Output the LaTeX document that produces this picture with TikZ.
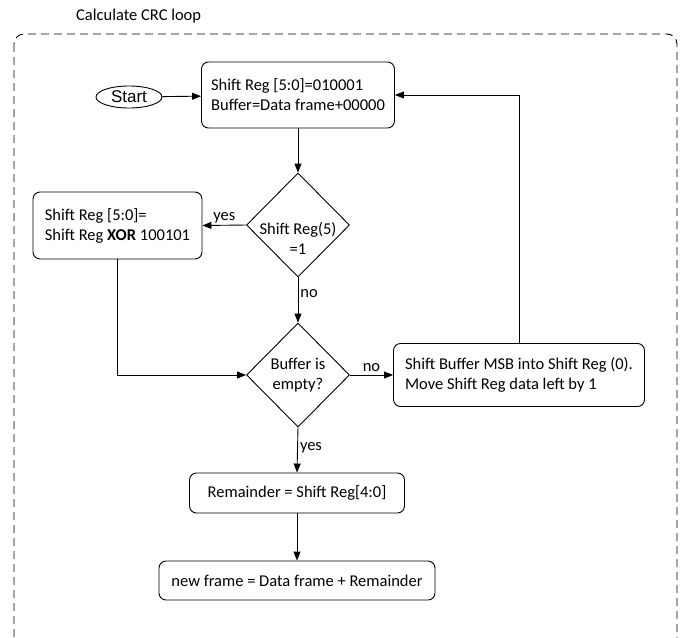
\documentclass[tikz,border=0pt]{standalone}
\usepackage{fontspec}
\setmainfont{Carlito}
\newfontfamily\arialfont{Liberation Sans}
\usetikzlibrary{shapes.geometric,positioning,calc,arrows.meta}
\tikzset{PROCESS/.style={rectangle,rounded corners=7pt,draw,line width=0.9pt,align=left,inner sep=0pt}}
\tikzset{DECISION/.style={diamond,draw,line width=0.9pt,align=center,inner sep=0pt,minimum width=103pt,minimum height=104pt}}
\tikzset{TERMINAL/.style={ellipse,draw,line width=0.9pt,inner sep=0pt,minimum width=66pt,minimum height=22pt,font=\arialfont\fontsize{17}{19}\selectfont}}
\tikzset{ARROW/.style={line width=0.9pt, -{Triangle[length=9pt,width=7pt]}}}
\tikzset{LABEL/.style={inner sep=1pt}}
\tikzset{LOOP/.style={dashed,dash pattern=on 8pt off 5pt,line width=0.9pt,rounded corners=10pt}}

\begin{document}
\begin{tikzpicture}[x=1pt,y=-1pt,font=\fontsize{16.5}{20}\selectfont]
\useasboundingbox (0,0) rectangle (687,637);

% loop frame
\draw[LOOP] (14,34) rectangle (677,648);
\node[anchor=west, inner sep=0pt] (n_title) at (76,16) {Calculate CRC loop};

\node[TERMINAL] (n_start) at (129,97) {Start};
\node[PROCESS, minimum width=193pt, minimum height=66pt] (n_init) at (298,95) {Shift Reg [5:0]=010001\\Buffer=Data frame+00000};

\node[DECISION, label={[yshift=-13pt,align=center]center:Shift Reg(5)\\=1}] (d_msb) at (298,225) {};
\node[PROCESS, minimum width=169pt, minimum height=67pt] (n_xor) at (117.5,225.5) {Shift Reg [5:0]=\\Shift Reg \textbf{XOR} 100101};

\node[DECISION] (d_empty) at (298,375) {Buffer is\\empty?};
\node[PROCESS, minimum width=251pt, minimum height=63pt] (n_shift) at (519,375) {Shift Buffer MSB into Shift Reg (0).\\Move Shift Reg data left by 1};

\node[PROCESS, align=center, minimum width=215pt, minimum height=40pt] (n_rem) at (297,493) {Remainder = Shift Reg[4:0]};
\node[PROCESS, align=center, minimum width=276pt, minimum height=39pt] (n_frame) at (297,580.5) {new frame = Data frame + Remainder};

\draw[ARROW] (n_start) -- (n_init);
\draw[ARROW] (n_init) -- (d_msb);
\draw[ARROW] (d_msb.west) -- (n_xor.east) node[LABEL, midway, above=1pt] {yes};
\draw[ARROW] (d_msb.south) -- (d_empty.north) node[LABEL, pos=0.35, right=1pt] {no};
\draw[ARROW] (n_xor.south) |- (d_empty.west);
\draw[ARROW] (d_empty.east) -- (n_shift.west) node[LABEL, midway, above=2pt] {no};
\draw[ARROW] (n_shift.north) |- (n_init.east);
\draw[ARROW] (d_empty.south) -- (n_rem.north) node[LABEL, pos=0.45, right=1pt] {yes};
\draw[ARROW] (n_rem) -- (n_frame);

\end{tikzpicture}
\end{document}
